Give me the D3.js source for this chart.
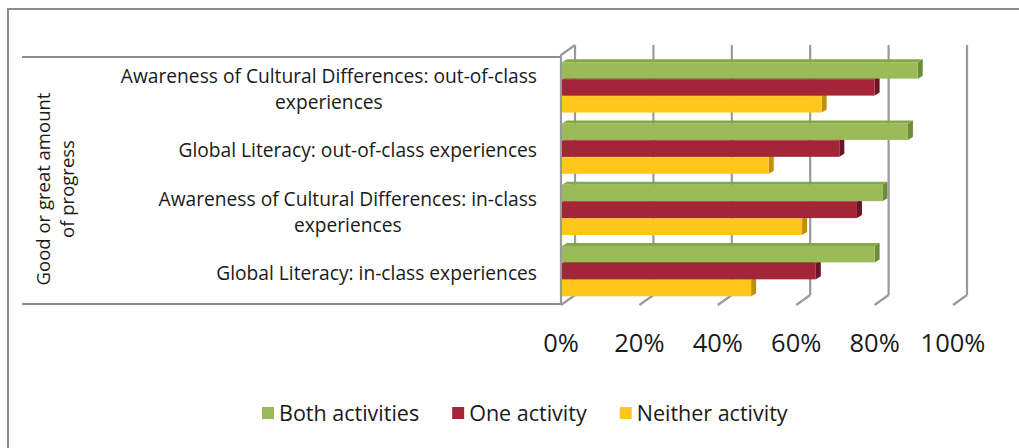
<!DOCTYPE html>
<html>
<head>
<meta charset="utf-8">
<script src="https://cdn.jsdelivr.net/npm/d3@7"></script>
<style>
  html, body { margin: 0; padding: 0; background: #fff; }
  svg { display: block; font-family: "Open Sans", "Noto Sans", sans-serif; }
</style>
</head>
<body>
<svg id="chart" width="1019" height="448"></svg>
<script>
// categories, top to bottom
var categories = [
    ['Awareness of Cultural Differences: out-of-class', 'experiences'],
    ['Global Literacy: out-of-class experiences'],
    ['Awareness of Cultural Differences: in-class', 'experiences'],
    ['Global Literacy: in-class experiences']
];
var groupLabel = ['Good or great amount', 'of progress'];
var seriesNames = ['Both activities', 'One activity', 'Neither activity'];
var bothValues = [0.91, 0.885, 0.82, 0.80];
var oneValues = [0.80, 0.71, 0.755, 0.65];
var neitherValues = [0.665, 0.53, 0.615, 0.485];
var tickValues = [0, 0.2, 0.4, 0.6, 0.8, 1.0];
var tickLabels = ['0%', '20%', '40%', '60%', '80%', '100%'];

(function (d3) {
    'use strict';

    var FRONT_LEFT   = 561,
        FRONT_RIGHT  = 953,
        WALL_DX      = 14,
        WALL_DY      = 10,
        BAR_DX       = 5,
        BAR_DY       = 3,
        GRID_COLOR   = '#9a9a9a',
        TEXT_COLOR   = '#1a1a1a',
        COLORS = [
            { front: '#9bbb59', top: '#86a64a', side: '#6f8b38' },
            { front: '#a32638', top: '#8c1d2e', side: '#6b1423' },
            { front: '#ffc61e', top: '#e8ac10', side: '#c28f05' }
        ];

    var series = [bothValues, oneValues, neitherValues];
    var svg = d3.select('#chart');

    var x = d3.scaleLinear().domain([0, 1]).range([FRONT_LEFT, FRONT_RIGHT]);
    var y = d3.scaleBand().domain(d3.range(categories.length))
        .range([54, 299]).paddingInner(0.17).paddingOuter(0.085);
    var ySub = d3.scaleBand().domain(d3.range(series.length))
        .range([0, y.bandwidth()]);

    // outer frame (right and bottom edges sit outside the picture)
    svg.append('rect')
        .attr('x', 8).attr('y', 9)
        .attr('width', 1030).attr('height', 460)
        .attr('fill', 'none').attr('stroke', '#8c8c8c').attr('stroke-width', 2);

    // category axis lines
    [57, 304].forEach(function (yy) {
        svg.append('line')
            .attr('x1', 22).attr('x2', FRONT_LEFT)
            .attr('y1', yy).attr('y2', yy)
            .attr('stroke', '#8c8c8c').attr('stroke-width', 2);
    });

    // back wall gridlines + floor ticks
    var grid = svg.append('g').attr('stroke', GRID_COLOR).attr('stroke-width', 2.2).attr('fill', 'none');
    tickValues.forEach(function (t) {
        var xf = x(t), xb = xf + WALL_DX;
        grid.append('line')
            .attr('x1', xb).attr('x2', xb)
            .attr('y1', 45).attr('y2', 305 - WALL_DY);
        grid.append('line')
            .attr('x1', xf).attr('x2', xb)
            .attr('y1', 305).attr('y2', 305 - WALL_DY);
    });
    // left wall outline
    grid.append('path')
        .attr('d', 'M' + FRONT_LEFT + ',304 L' + FRONT_LEFT + ',55 L' + (FRONT_LEFT + WALL_DX) + ',45');

    /**
     * draw one 3D bar: front face, top face and right side face
     */
    function drawBar(g, x0, x1, y0, h, c) {
        var w = x1 - x0;
        g.append('path')
            .attr('d', 'M' + x0 + ',' + y0 + 'L' + (x0 + BAR_DX) + ',' + (y0 - BAR_DY) +
                'L' + (x1 + BAR_DX) + ',' + (y0 - BAR_DY) + 'L' + x1 + ',' + y0 + 'Z')
            .attr('fill', c.top);
        g.append('path')
            .attr('d', 'M' + x1 + ',' + y0 + 'L' + (x1 + BAR_DX) + ',' + (y0 - BAR_DY) +
                'L' + (x1 + BAR_DX) + ',' + (y0 + h - BAR_DY) + 'L' + x1 + ',' + (y0 + h) + 'Z')
            .attr('fill', c.side);
        g.append('rect')
            .attr('x', x0).attr('y', y0)
            .attr('width', w).attr('height', h)
            .attr('fill', c.front);
    }

    var bars = svg.append('g');
    categories.forEach(function (cat, i) {
        // draw bottom series first so the upper bars' faces sit on top
        for (var s = series.length - 1; s >= 0; s--) {
            var y0 = y(i) + ySub(s) + BAR_DY;
            drawBar(bars, x(0) + 1, x(series[s][i]), y0, ySub.bandwidth() - 0.5, COLORS[s]);
        }
    });

    // category labels, right aligned, wrapped lines centred under the first
    var LABEL_RIGHT = 537, LINE_H = 26;
    var labels = svg.append('g')
        .attr('font-size', 19.2).attr('fill', TEXT_COLOR);
    categories.forEach(function (lines, i) {
        var base = y(i) + y.bandwidth() / 2 + 11.5 - (lines.length - 1) * LINE_H / 2;
        var first = labels.append('text')
            .attr('x', LABEL_RIGHT).attr('y', base)
            .attr('text-anchor', 'end')
            .text(lines[0]);
        var w = first.node().getComputedTextLength();
        lines.slice(1).forEach(function (line, k) {
            labels.append('text')
                .attr('x', LABEL_RIGHT - w / 2).attr('y', base + LINE_H * (k + 1))
                .attr('text-anchor', 'middle')
                .text(line);
        });
    });

    // rotated group label
    var gl = svg.append('text')
        .attr('transform', 'translate(44,189) rotate(-90)')
        .attr('font-size', 18.5).attr('fill', TEXT_COLOR)
        .attr('text-anchor', 'middle');
    groupLabel.forEach(function (line, k) {
        gl.append('tspan').attr('x', 0).attr('y', k * 24).attr('dy', '0.35em').text(line);
    });

    // value axis labels
    svg.append('g').selectAll('text')
        .data(tickValues)
        .join('text')
        .attr('x', function (d) { return x(d); })
        .attr('y', 343)
        .attr('dy', '0.35em')
        .attr('text-anchor', 'middle')
        .attr('font-size', 25.5)
        .attr('fill', TEXT_COLOR)
        .text(function (d, i) { return tickLabels[i]; });

    // legend
    var legend = svg.append('g').attr('font-size', 21.5).attr('fill', TEXT_COLOR);
    var lx = 262;
    seriesNames.forEach(function (name, i) {
        legend.append('rect')
            .attr('x', lx).attr('y', 407)
            .attr('width', 12).attr('height', 12)
            .attr('fill', COLORS[i].front);
        var t = legend.append('text')
            .attr('x', lx + 17).attr('y', 413)
            .attr('dy', '0.35em')
            .text(name);
        lx += 17 + t.node().getComputedTextLength() + 33;
    });
})(d3);
</script>
</body>
</html>
